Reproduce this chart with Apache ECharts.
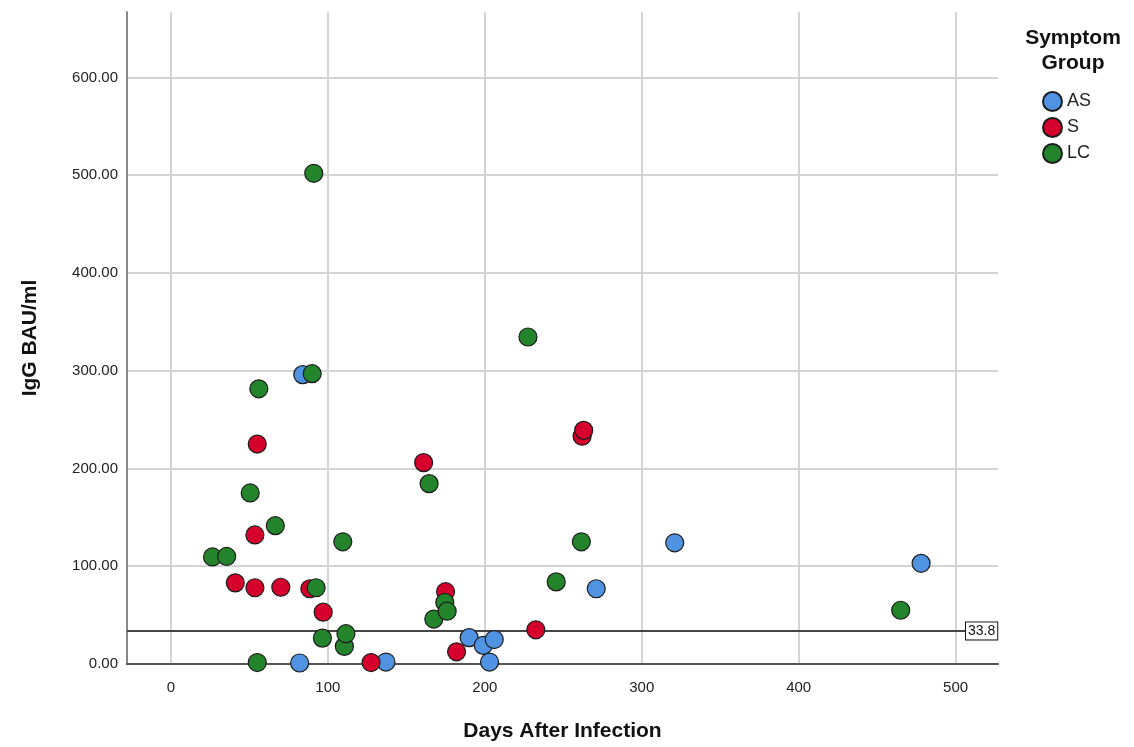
<!DOCTYPE html>
<html>
<head>
<meta charset="utf-8">
<title>IgG BAU/ml by Days After Infection</title>
<script src="https://cdn.jsdelivr.net/npm/echarts@6/dist/echarts.min.js"></script>
<style>
  html, body { margin: 0; padding: 0; background: #ffffff; }
  #chart { width: 1134px; height: 747px; }
</style>
</head>
<body>
<div id="chart"></div>
<script>
// [days after infection, IgG BAU/ml] per participant, by symptom group
const asPoints = [
  [82, 1], [84, 296], [137, 2], [190, 27], [199, 19], [206, 25],
  [203, 2], [271, 77], [321, 124], [478, 103]
];
const sPoints = [
  [55, 225], [53.5, 132], [41, 83], [53.5, 78], [70, 78.5], [88.5, 77],
  [97, 53], [127.5, 1.5], [161, 206], [175, 74], [182, 12.5], [232.5, 35],
  [262, 233], [263, 239]
];
const lcPoints = [
  [26.5, 109.5], [35.5, 110], [50.5, 175], [56, 281.5], [55, 1.5], [66.5, 141.5],
  [91, 502], [90, 297], [92.5, 78], [96.5, 26.5], [109.5, 125], [110.5, 18],
  [111.5, 31], [164.5, 184.5], [167.5, 46], [174.5, 63], [176, 54], [227.5, 334.5],
  [245.5, 84], [261.5, 125], [465, 55]
];

const groupNames = ['AS', 'S', 'LC'];
const groupColors = ['#4f93e2', '#d5002c', '#23842b'];

const xTicks = [0, 100, 200, 300, 400, 500];
const yTicks = [0, 100, 200, 300, 400, 500, 600];
const cutoff = 33.8;

const FONT = '"Liberation Sans", Arial, sans-serif';

const chart = echarts.init(document.getElementById('chart'), null, { renderer: 'canvas' });

function scatterSeries(name, data, color, withCutoff) {
  const s = {
    name: name,
    type: 'scatter',
    data: data,
    symbol: 'circle',
    symbolSize: 18,
    itemStyle: { color: color, borderColor: '#1c1c1c', borderWidth: 1.2, opacity: 1 },
    emphasis: { disabled: true },
    animation: false
  };
  if (withCutoff) {
    s.markLine = {
      silent: true,
      symbol: ['none', 'none'],
      lineStyle: { color: '#454545', width: 2, type: 'solid' },
      label: {
        show: true,
        position: 'end',
        distance: [-32, 0],
        formatter: function () { return String(cutoff); },
        color: '#111',
        fontFamily: FONT,
        fontSize: 14,
        backgroundColor: '#ffffff',
        borderColor: '#111',
        borderWidth: 1,
        padding: [2, 2, 1, 2]
      },
      data: [{ yAxis: cutoff }],
      animation: false,
      z: 1
    };
  }
  return s;
}

const option = {
  backgroundColor: '#ffffff',
  animation: false,
  title: {
    text: 'Symptom\nGroup',
    left: 1068,
    top: 21,
    textAlign: 'center',
    textStyle: { fontFamily: FONT, fontSize: 21, fontWeight: 'bold', color: '#111', lineHeight: 25 }
  },
  legend: {
    orient: 'vertical',
    left: 1037,
    top: 86,
    itemWidth: 19,
    itemHeight: 19,
    itemGap: 5,
    icon: 'circle',
    data: groupNames,
    textStyle: { fontFamily: FONT, fontSize: 18, color: '#222' },
    selectedMode: false
  },
  grid: { left: 127, top: 12, width: 871, height: 652, containLabel: false },
  xAxis: {
    type: 'value',
    min: -28,
    max: 527,
    name: 'Days After Infection',
    nameLocation: 'middle',
    nameGap: 57,
    nameTextStyle: { fontFamily: FONT, fontSize: 21, fontWeight: 'bold', color: '#111' },
    axisLine: { show: true, onZero: false, lineStyle: { color: '#555', width: 2 } },
    axisTick: { show: false, customValues: xTicks },
    axisLabel: {
      customValues: xTicks,
      margin: 16,
      fontFamily: FONT,
      fontSize: 15,
      color: '#222'
    },
    splitLine: { show: true, lineStyle: { color: '#d4d4d4', width: 2 } }
  },
  yAxis: {
    type: 'value',
    min: 0,
    max: 667,
    name: 'IgG BAU/ml',
    nameLocation: 'middle',
    nameGap: 86,
    nameTextStyle: { fontFamily: FONT, fontSize: 21, fontWeight: 'bold', color: '#111' },
    axisLine: { show: true, onZero: false, lineStyle: { color: '#8a8a8a', width: 2 } },
    axisTick: { show: false, customValues: yTicks },
    axisLabel: {
      customValues: yTicks,
      margin: 9,
      fontFamily: FONT,
      fontSize: 15,
      color: '#222',
      formatter: function (v) { return v.toFixed(2); }
    },
    splitLine: { show: true, lineStyle: { color: '#d4d4d4', width: 2 } }
  },
  series: [
    scatterSeries(groupNames[0], asPoints, groupColors[0], true),
    scatterSeries(groupNames[1], sPoints, groupColors[1], false),
    scatterSeries(groupNames[2], lcPoints, groupColors[2], false)
  ]
};

chart.setOption(option);
</script>
</body>
</html>
